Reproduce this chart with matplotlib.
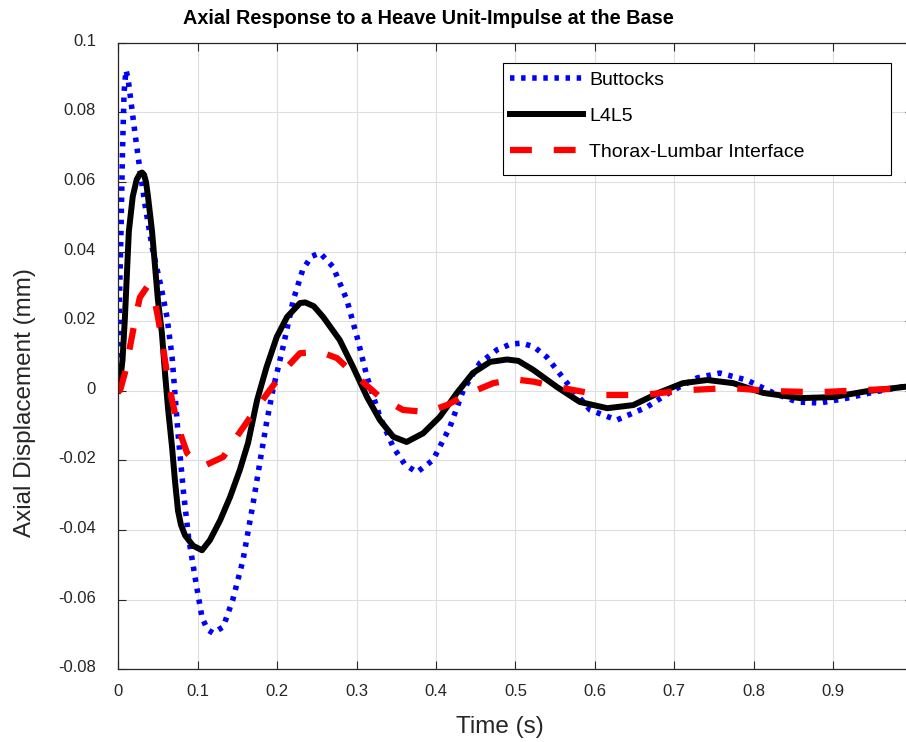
import matplotlib
matplotlib.use("Agg")
import matplotlib.pyplot as plt
from matplotlib.patches import Rectangle
from matplotlib.transforms import ScaledTranslation

plt.rcParams['font.family'] = ['Liberation Sans', 'DejaVu Sans']

# Buttocks (blue dotted)
t_buttocks = [0, 0.0015, 0.0035, 0.0054, 0.0074, 0.0098, 0.0124, 0.0163, 0.0213, 0.0272, 0.0342,
              0.0431, 0.054, 0.0614, 0.0678, 0.0753, 0.0822, 0.0886, 0.0986, 0.1055, 0.1124,
              0.1194, 0.1322, 0.1441, 0.157, 0.1699, 0.1788, 0.1867, 0.1946, 0.2075, 0.2204,
              0.2323, 0.2432, 0.254, 0.2704, 0.2878, 0.3006, 0.3132, 0.3294, 0.3462, 0.361,
              0.3759, 0.3962, 0.4175, 0.4344, 0.4552, 0.477, 0.4938, 0.5083, 0.5235, 0.5394,
              0.5651, 0.5939, 0.6275, 0.6652, 0.6989, 0.7286, 0.7573, 0.791, 0.8247, 0.8544,
              0.8831, 0.9178, 0.9505, 1.0]
y_buttocks = [0.0, 0.0258, 0.0458, 0.0688, 0.0858, 0.0921, 0.0897, 0.0827, 0.0737, 0.0637, 0.0528,
              0.0408, 0.0298, 0.0212, 0.0098, -0.0122, -0.0292, -0.0422, -0.0561, -0.0651, -0.0686,
              -0.0696, -0.0678, -0.0601, -0.0487, -0.0322, -0.0199, -0.0092, 0.0002, 0.0126, 0.0261,
              0.0348, 0.0386, 0.0396, 0.0356, 0.0261, 0.0155, 0.004, -0.0075, -0.0162, -0.0212,
              -0.0234, -0.0199, -0.0104, 0.0002, 0.008, 0.0118, 0.0134, 0.0137, 0.0126, 0.0097,
              0.0022, -0.0055, -0.0084, -0.0047, 0.0002, 0.0037, 0.0051, 0.0031, -0.0006, -0.0032,
              -0.0035, -0.0021, -0.0004, 0.0017]

# L4L5 (black solid)
t_l4l5 = [0, 0.0025, 0.0054, 0.0084, 0.0114, 0.0134, 0.0183, 0.0233, 0.0272, 0.0300, 0.0325,
          0.0350, 0.0375, 0.0426, 0.0500, 0.0550, 0.0589, 0.0629, 0.0678, 0.0715, 0.0753,
          0.079, 0.0841, 0.0942, 0.1055, 0.1154, 0.1283, 0.1408, 0.153, 0.1634, 0.1748,
          0.1867, 0.1996, 0.2125, 0.2288, 0.2353, 0.2462, 0.2580, 0.2788, 0.2957, 0.3132,
          0.3294, 0.3462, 0.3630, 0.3838, 0.4047, 0.4264, 0.4463, 0.4680, 0.4894, 0.5037,
          0.5225, 0.5522, 0.5810, 0.6156, 0.6483, 0.6820, 0.7107, 0.7415, 0.7741, 0.8118,
          0.8584, 0.8999, 0.9426, 1.0]
y_l4l5 = [0.0, 0.0028, 0.0088, 0.0208, 0.0358, 0.0458, 0.0558, 0.0607, 0.0623, 0.0627, 0.0621,
          0.0600, 0.0558, 0.0458, 0.0261, 0.0166, 0.0051, -0.0055, -0.0162, -0.026, -0.0345,
          -0.0385, -0.0415, -0.0445, -0.0458, -0.0429, -0.0372, -0.0305, -0.0228, -0.015, -0.0027,
          0.0068, 0.0155, 0.0212, 0.0252, 0.0254, 0.0243, 0.0212, 0.0146, 0.0068, -0.0018,
          -0.0084, -0.0132, -0.0147, -0.0122, -0.0075, -0.0006, 0.0051, 0.0083, 0.009, 0.0086,
          0.006, 0.0011, -0.0032, -0.005, -0.0041, -0.0004, 0.0022, 0.0031, 0.0022, -0.0006,
          -0.0021, -0.0018, -0.0001, 0.0014]

# Thorax-Lumbar Interface (red dashed)
t_thorax = [0, 0.0025, 0.0084, 0.0148, 0.0213, 0.0272, 0.0361, 0.0441, 0.05, 0.055, 0.0614,
            0.0678, 0.0753, 0.0867, 0.0991, 0.1114, 0.1322, 0.1491, 0.1699, 0.1907, 0.2125,
            0.2288, 0.254, 0.2754, 0.3006, 0.3294, 0.3585, 0.3888, 0.4136, 0.4428, 0.472,
            0.4988, 0.5235, 0.5522, 0.6067, 0.6602, 0.7157, 0.7702, 0.8247, 0.8831, 0.9376, 1.0]
y_thorax = [0.0, 0.0002, 0.0051, 0.0126, 0.0204, 0.0268, 0.0298, 0.0281, 0.0212, 0.0146, 0.0051,
            -0.0027, -0.0104, -0.0179, -0.0208, -0.0212, -0.019, -0.0132, -0.0064, 0.0002, 0.0068,
            0.0108, 0.0112, 0.0094, 0.004, -0.0018, -0.0055, -0.0061, -0.0041, -0.0006, 0.0022,
            0.0033, 0.0026, 0.0011, -0.0012, -0.0012, 0.0002, 0.0008, -0.0001, -0.0004, 0.0002, 0.0008]

x_ticks = [0, 0.1, 0.2, 0.3, 0.4, 0.5, 0.6, 0.7, 0.8, 0.9]
x_tick_labels = ['0', '0.1', '0.2', '0.3', '0.4', '0.5', '0.6', '0.7', '0.8', '0.9']
y_ticks = [-0.08, -0.06, -0.04, -0.02, 0, 0.02, 0.04, 0.06, 0.08, 0.1]
y_tick_labels = ['-0.08', '-0.06', '-0.04', '-0.02', '0', '0.02', '0.04', '0.06', '0.08', '0.1']

axis_grey = (0.15, 0.15, 0.15)

fig = plt.figure(figsize=(9.06, 7.42), dpi=100)
# the right edge of the axes runs past the figure, as in the reference
ax = fig.add_axes([118.2 / 906, 1 - 669.3 / 742, 794.5 / 906, 626.6 / 742])

ax.plot(t_buttocks, y_buttocks, color=(0, 0, 1), linestyle=(0, (0.8, 1.2)), linewidth=4.0,
        label='Buttocks')
ax.plot(t_l4l5, y_l4l5, color='black', linestyle='-', linewidth=4.3, label='L4L5')
ax.plot(t_thorax, y_thorax, color=(1, 0, 0), linestyle=(0, (3.5, 3.5)), linewidth=4.5,
        label='Thorax-Lumbar Interface')

ax.set_xlim(0, 1.0)
ax.set_ylim(-0.08, 0.1)
ax.set_xticks(x_ticks)
ax.set_xticklabels(x_tick_labels)
ax.set_yticks(y_ticks)
ax.set_yticklabels(y_tick_labels)
ax.tick_params(direction='in', length=6, width=0.8, colors=axis_grey, labelsize=12,
               top=True, right=True)
ax.tick_params(axis='x', pad=10.5)
ax.tick_params(axis='y', pad=16)
for lab in ax.get_yticklabels():
    lab.set_transform(lab.get_transform() + ScaledTranslation(0, 3 / 100, fig.dpi_scale_trans))
ax.grid(True, color=(0.87, 0.87, 0.87), linewidth=0.8)
ax.set_axisbelow(True)
for sp in ax.spines.values():
    sp.set_color(axis_grey)
    sp.set_linewidth(0.9)

# legend frame drawn by hand (MATLAB style box, wider than the text)
frame = Rectangle((0.4843, 0.7889), 0.9727 - 0.4843, 0.9676 - 0.7889, transform=ax.transAxes,
                  facecolor='white', edgecolor='black', linewidth=0.8, zorder=4.5)
ax.add_patch(frame)
leg = ax.legend(loc='upper left', bbox_to_anchor=(0.4931, 0.954), frameon=False,
                fontsize=14, handlelength=3.76, handletextpad=0.3, labelspacing=0.93,
                borderpad=0, borderaxespad=0)

fig.text(428 / 906, 1 - 18 / 742, 'Axial Response to a Heave Unit-Impulse at the Base',
         ha='center', va='center', fontsize=14.3, fontweight='bold')
fig.text(500 / 906, 1 - 727 / 742, 'Time (s)', ha='center', va='center', fontsize=17.5,
         color=axis_grey)
fig.text(25 / 906, 1 - 403 / 742, 'Axial Displacement (mm)', ha='center', va='center',
         rotation=90, fontsize=17.5, color=axis_grey)

fig.savefig('out.png', dpi=100)
